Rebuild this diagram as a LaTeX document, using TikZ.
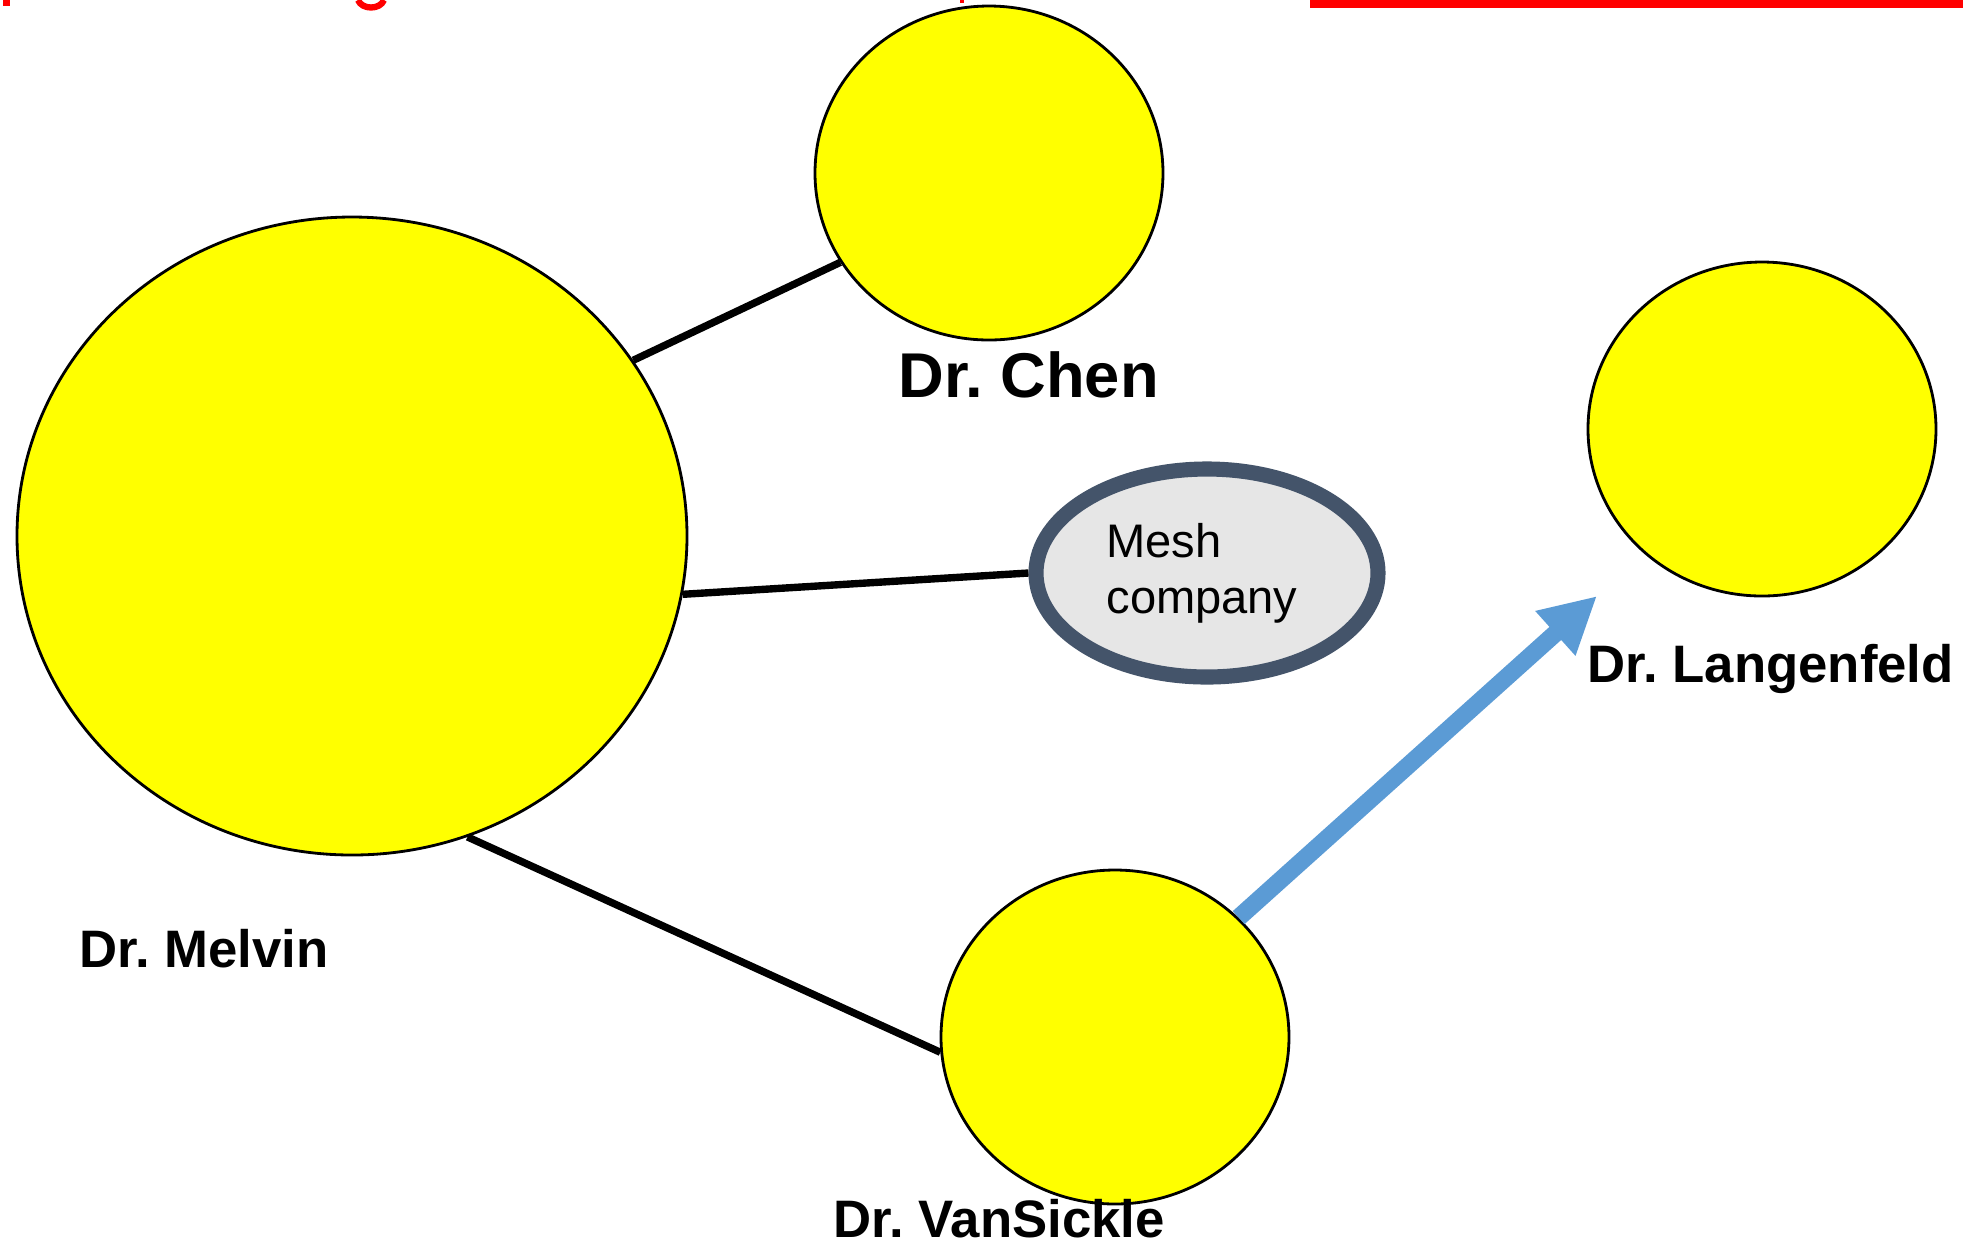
\documentclass[tikz,border=0pt]{standalone}
\usepackage{fontspec}
\setmainfont{Liberation Sans}
\usetikzlibrary{shapes.geometric,arrows.meta}
\definecolor{dotyellow}{HTML}{FFFF00}
\definecolor{meshfill}{HTML}{E6E6E6}
\definecolor{meshedge}{HTML}{44546A}
\definecolor{flowblue}{HTML}{5B9BD5}
\frenchspacing
\begin{document}
\begin{tikzpicture}[
  person/.style={ellipse, draw, fill=dotyellow, line width=0.8pt, inner sep=0pt,
    minimum width=3.48cm, minimum height=3.34cm},
  drlabel/.style={anchor=base west, inner sep=0pt, font=\fontsize{15.0}{17}\selectfont\bfseries},
  link/.style={line width=2.1pt},
  firm/.style={ellipse, draw=meshedge, fill=meshfill, line width=4.3pt, inner sep=0pt,
    minimum width=3.42cm, minimum height=2.08cm, align=left,
    font=\fontsize{13.4}{15.9}\selectfont}]
\useasboundingbox (0,0) rectangle (19.85,-12.43);
% bits of the cut-off title
\fill[red] (0.03,0) rectangle (0.10,-0.06);
\draw[red, line width=1.8pt] (3.58,0) .. controls (3.62,-0.10) and (3.80,-0.10) .. (3.84,0);
\fill[red] (9.60,0) rectangle (9.64,-0.03);
\fill[red] (13.10,0) rectangle (19.63,-0.08);
% people
\node[person, minimum width=6.70cm, minimum height=6.38cm] (melvin) at (3.52,-5.36) {};
\node[person] (chen) at (9.89,-1.73) {};
\node[person] (langenfeld) at (17.62,-4.29) {};
\node[person] (vansickle) at (11.15,-10.37) {};
\node[firm] (mesh) at (12.07,-5.73) {\hspace*{-0.1cm}Mesh\\\hspace*{-0.1cm}company};
\node[drlabel] (melvinlabel) at (0.79,-9.67) {Dr. Melvin};
\node[drlabel, font=\fontsize{18.0}{20}\selectfont\bfseries] (chenlabel) at (8.98,-3.97) {Dr. Chen};
\node[drlabel] (langenfeldlabel) at (15.87,-6.82) {Dr. Langenfeld};
\node[drlabel] (vansicklelabel) at (8.33,-12.37) {Dr. VanSickle};
% links
\draw[link] (melvin.32) -- (chen.211);
\draw[link] (melvin.-10) -- (mesh.west);
\draw[link] (melvin.-69) -- (vansickle.185);
\coordinate (arrowtip) at (15.97,-5.96);
\draw[flowblue, line width=5pt, -{Triangle[length=5.6mm, width=5.6mm]}] (vansickle.44) -- (arrowtip);
\end{tikzpicture}
\end{document}
